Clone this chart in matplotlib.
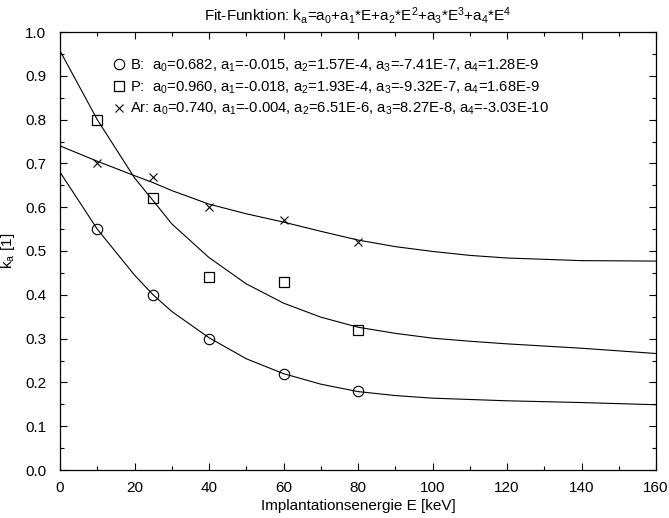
import numpy as np
import matplotlib
matplotlib.use('Agg')
import matplotlib.pyplot as plt
from matplotlib.ticker import MultipleLocator

plt.rcParams['font.family'] = ['Liberation Sans', 'DejaVu Sans']
plt.rcParams['mathtext.fontset'] = 'custom'
plt.rcParams['mathtext.rm'] = 'Liberation Sans'
plt.rcParams['mathtext.it'] = 'Liberation Sans'
plt.rcParams['font.size'] = 9.5

# measured points
E_meas = [10, 25, 40, 60, 80]
B_meas = [0.55, 0.40, 0.30, 0.22, 0.18]
P_meas = [0.80, 0.62, 0.44, 0.43, 0.32]
Ar_meas = [0.70, 0.67, 0.60, 0.57, 0.52]

# fit curves
E_fit = [0, 10, 20, 25, 30, 40, 50, 60, 70, 80, 90, 100, 110, 120, 140, 160]
B_fit = [0.68, 0.55, 0.445, 0.40, 0.362, 0.302, 0.254, 0.22, 0.196, 0.179, 0.17, 0.164, 0.161, 0.158, 0.154, 0.149]
P_fit = [0.957, 0.80, 0.667, 0.615, 0.562, 0.485, 0.425, 0.381, 0.349, 0.326, 0.312, 0.301, 0.294, 0.288, 0.278, 0.266]
Ar_fit = [0.74, 0.705, 0.672, 0.656, 0.638, 0.607, 0.585, 0.566, 0.545, 0.525, 0.51, 0.499, 0.49, 0.484, 0.478, 0.477]

labels = [
    r'B:  $a_0$=0.682, $a_1$=-0.015, $a_2$=1.57E-4, $a_3$=-7.41E-7, $a_4$=1.28E-9',
    r'P:  $a_0$=0.960, $a_1$=-0.018, $a_2$=1.93E-4, $a_3$=-9.32E-7, $a_4$=1.68E-9',
    r'Ar: $a_0$=0.740, $a_1$=-0.004, $a_2$=6.51E-6, $a_3$=8.27E-8, $a_4$=-3.03E-10',
]

fig = plt.figure(figsize=(6.69, 5.18), dpi=100)
ax = fig.add_axes([60/669, 48/518, 596/669, 438/518])

lw = 0.8
ax.plot(E_fit, B_fit, color='black', lw=lw)
ax.plot(E_fit, P_fit, color='black', lw=lw)
ax.plot(E_fit, Ar_fit, color='black', lw=lw)

ax.plot(E_meas, B_meas, 'o', ms=7.5, mfc='none', mec='black', mew=0.8, label=labels[0])
ax.plot(E_meas, P_meas, 's', ms=6.5, mfc='none', mec='black', mew=0.9, label=labels[1])
ax.plot(E_meas, Ar_meas, 'x', ms=5.5, mec='black', mew=0.8, label=labels[2])

ax.set_xlim(0, 160)
ax.set_ylim(0, 1.0)
ax.xaxis.set_major_locator(MultipleLocator(20))
ax.xaxis.set_minor_locator(MultipleLocator(10))
ax.yaxis.set_major_locator(MultipleLocator(0.1))
ax.yaxis.set_minor_locator(MultipleLocator(0.05))
ax.yaxis.set_major_formatter(plt.FormatStrFormatter('%.1f'))
ax.tick_params(which='both', direction='in', top=True, right=True, width=0.8)
ax.tick_params(which='major', length=5, labelsize=11)
ax.tick_params(axis='y', which='major', pad=10)
ax.tick_params(axis='x', which='major', pad=8)
ax.tick_params(which='minor', length=3)
for s in ax.spines.values():
    s.set_linewidth(0.9)

ax.set_xlabel('Implantationsenergie E [keV]', fontsize=11, labelpad=3)
ax.set_ylabel(r'k$_a$ [1]', fontsize=11, labelpad=6)
ax.set_title(r'Fit-Funktion: k$_a$=a$_0$+a$_1$*E+a$_2$*E$^2$+a$_3$*E$^3$+a$_4$*E$^4$',
             fontsize=11, pad=8)

ax.legend(loc='upper left', bbox_to_anchor=(0.075, 0.965), frameon=False,
          handlelength=0.6, handletextpad=0.4, labelspacing=0.35, fontsize=10.6,
          borderaxespad=0.3)

fig.savefig('out.png', dpi=100)
